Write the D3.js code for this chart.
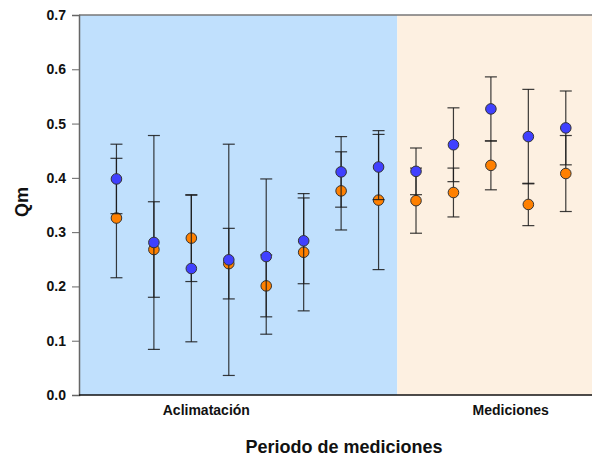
<!DOCTYPE html>
<html>
<head>
<meta charset="utf-8">
<script src="https://cdn.jsdelivr.net/npm/d3@7"></script>
<style>
	body { margin: 0; background: #fff; }
	text { font-family: "Liberation Sans", Arial, sans-serif; font-weight: bold; }
</style>
</head>
<body>
<svg id="chart" width="592" height="456"></svg>
<script>
// chart geometry
const svgWidth = 592;
const svgHeight = 456;
const plotLeft = 79;
const plotRight = 592;
const plotTop = 15;
const plotBottom = 395;
const dotRadius = 5.3;

// data
const sessions = [1, 2, 3, 4, 5, 6, 7, 8, 9, 10, 11, 12, 13];
const blueValues = [0.398, 0.281, 0.233, 0.249, 0.255, 0.284, 0.411, 0.420, 0.412, 0.461, 0.527, 0.476, 0.492];
const blueErrors = [0.064, 0.197, 0.135, 0.213, 0.143, 0.079, 0.065, 0.060, 0.043, 0.068, 0.059, 0.087, 0.068];
const orangeValues = [0.326, 0.268, 0.289, 0.242, 0.201, 0.263, 0.376, 0.359, 0.358, 0.373, 0.423, 0.351, 0.408];
const orangeErrors = [0.110, 0.088, 0.080, 0.065, 0.057, 0.108, 0.072, 0.128, 0.060, 0.045, 0.045, 0.039, 0.070];
const yTicks = [0.0, 0.1, 0.2, 0.3, 0.4, 0.5, 0.6, 0.7];

// periods (start/end on the session scale)
const periodNames = ["Aclimatación", "Mediciones"];
const periodStart = [0, 8.5];
const periodEnd = [8.5, 13.7];
const periodLabelAt = [3.4, 11.53];
const periodColors = ["#c0e0fd", "#fdf0e1"];

var svg = d3.select("#chart");

// scales
const xScale = d3.scaleLinear()
	.domain([0, 13.7])
	.range([plotLeft, plotRight]);

const yScale = d3.scaleLinear()
	.domain([0, 0.7])
	.range([plotBottom, plotTop]);

// background bands
svg.selectAll(".band")
	.data(periodNames)
	.enter()
	.append("rect")
	.attr("class", "band")
	.attr("x", (d, i) => xScale(periodStart[i]))
	.attr("y", plotTop)
	.attr("width", (d, i) => xScale(periodEnd[i]) - xScale(periodStart[i]))
	.attr("height", plotBottom - plotTop)
	.attr("fill", (d, i) => periodColors[i]);

// top border
svg.append("line")
	.attr("x1", plotLeft).attr("x2", plotRight)
	.attr("y1", plotTop).attr("y2", plotTop)
	.attr("stroke", "#777")
	.attr("stroke-width", 1.5);

// Y axis
var yaxis = svg.append("g")
	.attr("transform", `translate(${plotLeft},0)`)
	.call(d3.axisLeft(yScale)
		.tickValues(yTicks)
		.tickFormat(d3.format(".1f"))
		.tickSize(7)
		.tickPadding(6));

yaxis.select(".domain").attr("stroke", "#666").attr("stroke-width", 1.5);
yaxis.selectAll(".tick line").attr("stroke", "#666");
yaxis.selectAll("text")
	.style("font-size", "14px")
	.attr("fill", "#111");

// X axis line (no ticks)
svg.append("line")
	.attr("x1", plotLeft).attr("x2", plotRight)
	.attr("y1", plotBottom).attr("y2", plotBottom)
	.attr("stroke", "#111")
	.attr("stroke-width", 1.5);

// period labels
svg.selectAll(".period-label")
	.data(periodNames)
	.enter()
	.append("text")
	.attr("class", "period-label")
	.attr("x", (d, i) => xScale(periodLabelAt[i]))
	.attr("y", 415)
	.attr("text-anchor", "middle")
	.style("font-size", "14px")
	.attr("fill", "#111")
	.text(d => d);

// axis titles
svg.append("text")
	.attr("x", 344)
	.attr("y", 453)
	.attr("text-anchor", "middle")
	.style("font-size", "18px")
	.attr("fill", "#111")
	.text("Periodo de mediciones");

svg.append("text")
	.attr("transform", "translate(28,202) rotate(-90)")
	.attr("text-anchor", "middle")
	.style("font-size", "18px")
	.attr("fill", "#111")
	.text("Qm");

/**
 * Draws one series: error bars with caps, then the dots on top.
 */
function drawSeries(values, errors, fill, cls) {
	var g = svg.append("g").attr("class", cls);
	var rows = sessions.map((s, i) => ({ s: s, v: values[i], e: errors[i] }));

	var bars = g.selectAll(".err")
		.data(rows)
		.enter()
		.append("g")
		.attr("class", "err")
		.attr("stroke", "#1a1a1a")
		.attr("stroke-opacity", 0.85)
		.attr("stroke-width", 1.2);

	bars.append("line")
		.attr("x1", d => xScale(d.s)).attr("x2", d => xScale(d.s))
		.attr("y1", d => yScale(d.v - d.e)).attr("y2", d => yScale(d.v + d.e));

	bars.append("line")
		.attr("x1", d => xScale(d.s) - 6).attr("x2", d => xScale(d.s) + 6)
		.attr("y1", d => yScale(d.v + d.e)).attr("y2", d => yScale(d.v + d.e));

	bars.append("line")
		.attr("x1", d => xScale(d.s) - 6).attr("x2", d => xScale(d.s) + 6)
		.attr("y1", d => yScale(d.v - d.e)).attr("y2", d => yScale(d.v - d.e));

	g.selectAll(".dot")
		.data(rows)
		.enter()
		.append("circle")
		.attr("class", "dot")
		.attr("cx", d => xScale(d.s))
		.attr("cy", d => yScale(d.v))
		.attr("r", dotRadius)
		.attr("fill", fill)
		.attr("stroke", "#333")
		.attr("stroke-width", 1);
}

drawSeries(orangeValues, orangeErrors, "#ff8000", "orange");
drawSeries(blueValues, blueErrors, "#4040ff", "blue");
</script>
</body>
</html>
